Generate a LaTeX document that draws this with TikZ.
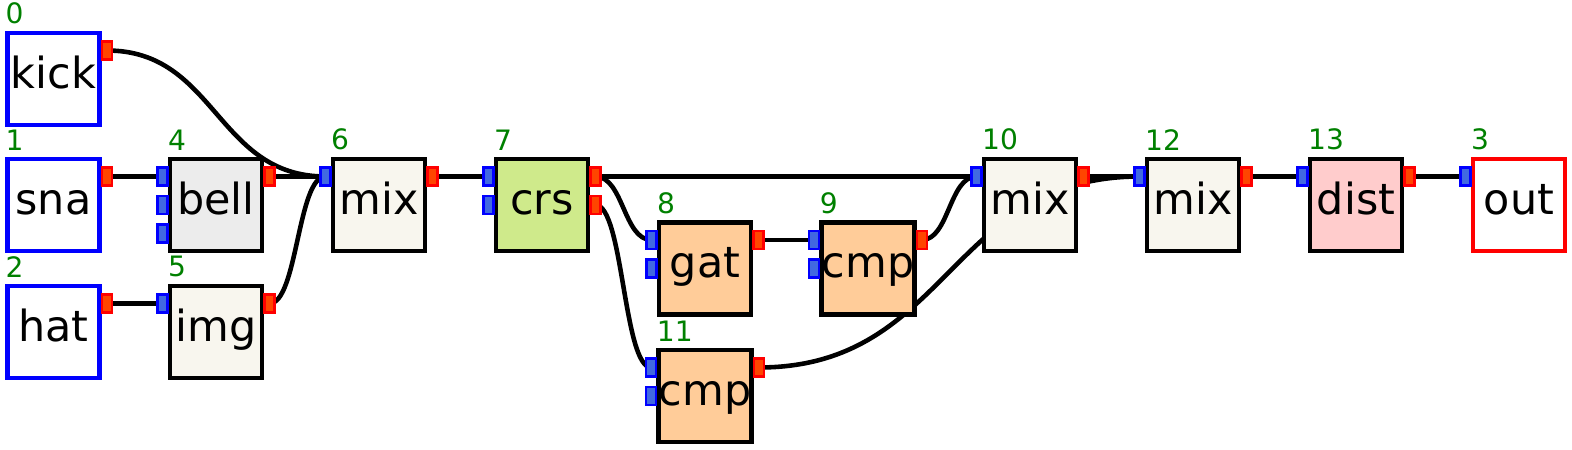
\documentclass[tikz,border=0pt]{standalone}
\usepackage{fontspec}
\setmainfont{DejaVu Sans}
\usetikzlibrary{calc}
\usetikzlibrary{backgrounds}
\definecolor{mixfill}{RGB}{248,246,238}
\definecolor{bellfill}{RGB}{236,236,236}
\definecolor{crsfill}{RGB}{207,234,139}
\definecolor{cmpfill}{RGB}{255,204,153}
\definecolor{distfill}{RGB}{255,204,204}
\definecolor{portblue}{RGB}{65,105,225}
\definecolor{portred}{RGB}{255,69,0}
\definecolor{numgreen}{RGB}{0,128,0}
\tikzset{
    box/.style = {rectangle, line width=1.4pt, draw=black, minimum size=0.92cm, inner sep=0pt, text height=0.76em, text depth=0.24em, font=\fontsize{12.2}{14}\selectfont},
    srcbox/.style = {box, draw=blue, fill=white},
    sinkbox/.style = {box, draw=red, fill=white},
    mixbox/.style = {box, fill=mixfill},
    bellbox/.style = {box, fill=bellfill},
    crsbox/.style = {box, fill=crsfill},
    cmpbox/.style = {box, fill=cmpfill},
    distbox/.style = {box, fill=distfill},
    num/.style = {anchor=south west, inner sep=0pt, yshift=0.55mm, text=numgreen, font=\fontsize{8}{9}\selectfont},
    port/.style = {rectangle, line width=0.6pt, minimum width=1mm, minimum height=1.8mm, inner sep=0pt},
    inport/.style = {port, draw=blue, fill=portblue, xshift=-0.5mm},
    outport/.style = {port, draw=red, fill=portred, xshift=0.5mm},
    wire/.style = {line width=1.3pt, to path={let \p1=(\tikztostart), \p2=(\tikztotarget) in
        .. controls ({(\x1+\x2)/2},\y1) and ({(\x1+\x2)/2},\y2) .. (\tikztotarget)}}
}

\begin{document}
\begin{tikzpicture}
\useasboundingbox (0,0) rectangle (15.72,4.5);
% units
\node[srcbox, label={[num]north west:0}] at (0.535, 3.71) (kick) {kick};
\node[srcbox, label={[num]north west:1}] at (0.535, 2.45) (sna) {sna};
\node[srcbox, label={[num]north west:2}] at (0.535, 1.18) (hat) {hat};
\node[bellbox, label={[num]north west:4}] at (2.16, 2.45) (bell) {bell};
\node[mixbox, label={[num]north west:5}] at (2.16, 1.18) (img) {img};
\node[mixbox, label={[num]north west:6}] at (3.79, 2.45) (mix6) {mix};
\node[crsbox, label={[num]north west:7}] at (5.42, 2.45) (crs) {crs};
\node[cmpbox, label={[num]north west:8}] at (7.05, 1.815) (gat) {gat};
\node[cmpbox, label={[num]north west:9}] at (8.68, 1.815) (cmp9) {cmp};
\node[cmpbox, label={[num]north west:11}] at (7.05, 0.54) (cmp11) {cmp};
\node[mixbox, label={[num]north west:10}] at (10.30, 2.45) (mix10) {mix};
\node[mixbox, label={[num]north west:12}] at (11.93, 2.45) (mix12) {mix};
\node[distbox, label={[num]north west:13}] at (13.56, 2.45) (dist) {dist};
\node[sinkbox, label={[num]north west:3}] at (15.19, 2.45) (outn) {out};
% ports
\node[outport] at ([yshift=2.85mm]kick.east) (kick-o1) {};
\node[outport] at ([yshift=2.85mm]sna.east) (sna-o1) {};
\node[outport] at ([yshift=2.85mm]hat.east) (hat-o1) {};
\node[inport] at ([yshift=2.85mm]bell.west) (bell-i1) {};
\node[inport] at (bell.west) (bell-i2) {};
\node[inport] at ([yshift=-2.85mm]bell.west) (bell-i3) {};
\node[outport] at ([yshift=2.85mm]bell.east) (bell-o1) {};
\node[inport] at ([yshift=2.85mm]img.west) (img-i1) {};
\node[outport] at ([yshift=2.85mm]img.east) (img-o1) {};
\node[inport] at ([yshift=2.85mm]mix6.west) (mix6-i1) {};
\node[outport] at ([yshift=2.85mm]mix6.east) (mix6-o1) {};
\node[inport] at ([yshift=2.85mm]crs.west) (crs-i1) {};
\node[inport] at (crs.west) (crs-i2) {};
\node[outport] at ([yshift=2.85mm]crs.east) (crs-o1) {};
\node[outport] at (crs.east) (crs-o2) {};
\node[inport] at ([yshift=2.85mm]gat.west) (gat-i1) {};
\node[inport] at (gat.west) (gat-i2) {};
\node[outport] at ([yshift=2.85mm]gat.east) (gat-o1) {};
\node[inport] at ([yshift=2.85mm]cmp9.west) (cmp9-i1) {};
\node[inport] at (cmp9.west) (cmp9-i2) {};
\node[outport] at ([yshift=2.85mm]cmp9.east) (cmp9-o1) {};
\node[inport] at ([yshift=2.85mm]cmp11.west) (cmp11-i1) {};
\node[inport] at (cmp11.west) (cmp11-i2) {};
\node[outport] at ([yshift=2.85mm]cmp11.east) (cmp11-o1) {};
\node[inport] at ([yshift=2.85mm]mix10.west) (mix10-i1) {};
\node[outport] at ([yshift=2.85mm]mix10.east) (mix10-o1) {};
\node[inport] at ([yshift=2.85mm]mix12.west) (mix12-i1) {};
\node[outport] at ([yshift=2.85mm]mix12.east) (mix12-o1) {};
\node[inport] at ([yshift=2.85mm]dist.west) (dist-i1) {};
\node[outport] at ([yshift=2.85mm]dist.east) (dist-o1) {};
\node[inport] at ([yshift=2.85mm]outn.west) (outn-i1) {};
% wires, under the units
\begin{pgfonlayer}{background}
\draw[wire] (kick-o1.center) to (mix6-i1.center);
\draw[wire] (sna-o1.center) to (bell-i1.center);
\draw[wire] (hat-o1.center) to (img-i1.center);
\draw[wire] (bell-o1.center) to (mix6-i1.center);
\draw[wire] (img-o1.center) to (mix6-i1.center);
\draw[wire] (mix6-o1.center) to (crs-i1.center);
\draw[wire] (crs-o1.center) to (mix10-i1.center);
\draw[wire] (crs-o1.center) to (gat-i1.center);
\draw[wire] (crs-o2.center) to (cmp11-i1.center);
\draw[wire] (gat-o1.center) to (cmp9-i1.center);
\draw[wire] (cmp9-o1.center) to (mix10-i1.center);
\draw[wire] (mix10-o1.center) to (mix12-i1.center);
\draw[wire] (cmp11-o1.center) to (mix12-i1.center);
\draw[wire] (mix12-o1.center) to (dist-i1.center);
\draw[wire] (dist-o1.center) to (outn-i1.center);
\end{pgfonlayer}
\end{tikzpicture}
\end{document}
